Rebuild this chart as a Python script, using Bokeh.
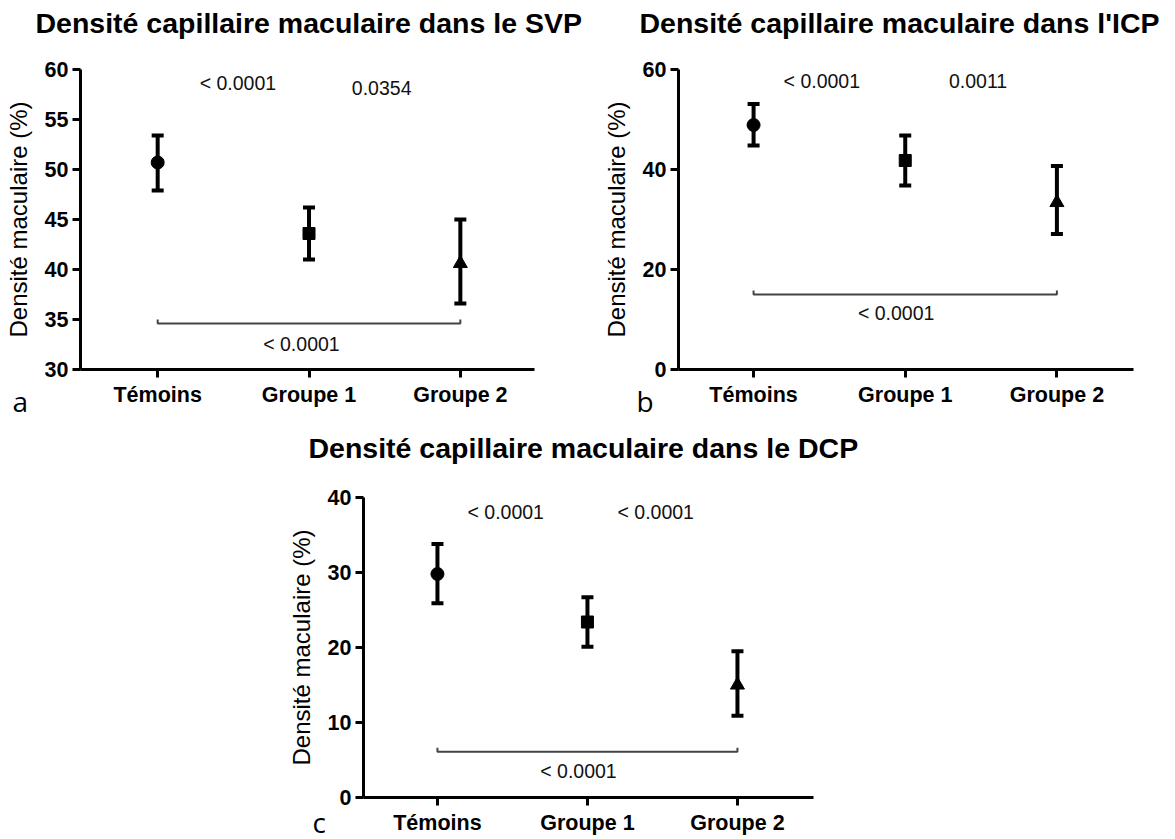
from bokeh.plotting import figure
from bokeh.models import ColumnDataSource, Whisker, TeeHead, Title, FixedTicker, Range1d, Spacer
from bokeh.layouts import column, row
from bokeh.embed import file_html
from bokeh.resources import INLINE
from bokeh.core.properties import value

# ---------------- data ----------------
groups = ["Témoins", "Groupe 1", "Groupe 2"]
group_pos = [1, 2, 3]
markers = ["circle", "square", "triangle"]

svp_mean = [50.7, 43.6, 40.6]
svp_upper = [53.4, 46.2, 45.0]
svp_lower = [47.9, 41.0, 36.6]
svp_pvals = ["< 0.0001", "0.0354", "< 0.0001"]

icp_mean = [48.9, 41.8, 33.4]
icp_upper = [53.1, 46.8, 40.7]
icp_lower = [44.8, 36.8, 27.1]
icp_pvals = ["< 0.0001", "0.0011", "< 0.0001"]

dcp_mean = [29.8, 23.4, 15.0]
dcp_upper = [33.8, 26.7, 19.5]
dcp_lower = [25.9, 20.1, 10.9]
dcp_pvals = ["< 0.0001", "< 0.0001", "< 0.0001"]

svp_ticks = [30, 35, 40, 45, 50, 55, 60]
icp_ticks = [0, 20, 40, 60]
dcp_ticks = [0, 10, 20, 30, 40]

titles = ["Densité capillaire maculaire dans le SVP",
          "Densité capillaire maculaire dans l'ICP",
          "Densité capillaire maculaire dans le DCP"]
letters = ["a", "b", "c"]

FONT = "Liberation Sans"


def title_strip(text, width, height, tx, ty):
    s = figure(width=width, height=height, output_backend="svg", toolbar_location=None,
               x_range=Range1d(0, width), y_range=Range1d(height, 0),
               x_axis_type=None, y_axis_type=None,
               min_border_left=0, min_border_right=0, min_border_top=0, min_border_bottom=0)
    s.outline_line_color = None
    s.grid.visible = False
    s.text(x=[tx], y=[ty], text=[text], text_font=value(FONT), text_font_size="28.5px",
           text_font_style="bold", text_color="black", text_align="left", text_baseline="middle")
    return s


def make_panel(letter, mean, upper, lower, pvals, yticks,
               fig_left, fig_top, width, height,
               fr_left, fr_right, fr_top, fr_bottom, x_start,
               pval_pos, bracket_y, letter_x, letter_standoff):
    y0, y1 = yticks[0], yticks[-1]
    x_end = x_start + 3.0
    p = figure(width=width, height=height, output_backend="svg", toolbar_location=None,
               x_range=Range1d(x_start, x_end), y_range=Range1d(y0, y1),
               min_border_left=fr_left - fig_left, min_border_right=width - (fr_right - fig_left),
               min_border_top=fr_top - fig_top, min_border_bottom=height - (fr_bottom - fig_top))
    p.outline_line_color = None
    p.grid.visible = False
    p.background_fill_color = "white"
    p.border_fill_color = "white"

    for ax in (p.xaxis[0], p.yaxis[0]):
        ax.axis_line_width = 3
        ax.axis_line_color = "black"
        ax.major_tick_line_width = 3
        ax.major_tick_line_color = "black"
        ax.major_tick_out = 8
        ax.major_tick_in = 0
        ax.minor_tick_line_color = None
        ax.major_label_text_font = FONT
        ax.major_label_text_font_style = "bold"
        ax.major_label_text_font_size = "21.5px"
        ax.major_label_text_color = "black"

    p.xaxis.ticker = FixedTicker(ticks=group_pos)
    p.xaxis.major_label_overrides = {g: n for g, n in zip(group_pos, groups)}
    p.xaxis.major_label_standoff = 5
    p.yaxis.ticker = FixedTicker(ticks=yticks)
    p.yaxis.major_label_standoff = 4
    p.yaxis.axis_label = "Densité maculaire (%)"
    p.yaxis.axis_label_text_font = FONT
    p.yaxis.axis_label_text_font_style = "normal"
    p.yaxis.axis_label_text_font_size = "24px"
    p.yaxis.axis_label_text_color = "black"
    p.yaxis.axis_label_standoff = 10

    src = ColumnDataSource(dict(x=group_pos, mean=mean, upper=upper, lower=lower,
                                marker=markers, size=[13, 12, 14]))
    w = Whisker(source=src, base="x", upper="upper", lower="lower", dimension="height",
                line_width=4, line_color="black",
                upper_head=TeeHead(size=12, line_width=4, line_color="black"),
                lower_head=TeeHead(size=12, line_width=4, line_color="black"))
    p.add_layout(w)
    p.scatter(x="x", y="mean", marker="marker", size="size", source=src,
              fill_color="black", line_color="black")

    # bracket between Témoins and Groupe 2
    tick_h = 4 * (y1 - y0) / (fr_bottom - fr_top)
    p.line(x=[group_pos[0], group_pos[0], group_pos[2], group_pos[2]],
           y=[bracket_y + tick_h, bracket_y, bracket_y, bracket_y + tick_h],
           line_color="#444444", line_width=2)

    # p-values
    ptxt = ColumnDataSource(dict(x=[q[0] for q in pval_pos], y=[q[1] for q in pval_pos], t=pvals))
    p.text(x="x", y="y", text="t", source=ptxt, text_font=value(FONT), text_font_size="19.5px",
           text_align="center", text_baseline="middle", text_color="#111111")

    # panel letter under the x axis, left of the frame
    p.add_layout(Title(text=letter, align="left", vertical_align="top",
                       offset=letter_x - fr_left, standoff=letter_standoff,
                       text_font="Open Sans", text_font_size="28px",
                       text_font_style="normal", text_color="black"), "below")
    return p


tA = title_strip(titles[0], 590, 45, 35, 22)
tB = title_strip(titles[1], 585, 45, 49, 22)
tC = title_strip(titles[2], 600, 50, 50, 27)

p1 = make_panel(letters[0], svp_mean, svp_upper, svp_lower, svp_pvals, svp_ticks,
                fig_left=0, fig_top=45, width=590, height=375,
                fr_left=80, fr_right=534, fr_top=69, fr_bottom=369, x_start=0.49,
                pval_pos=[(1.53, 58.7), (2.48, 58.2), (1.95, 32.6)], bracket_y=34.6,
                letter_x=12, letter_standoff=-56)

p2 = make_panel(letters[1], icp_mean, icp_upper, icp_lower, icp_pvals, icp_ticks,
                fig_left=590, fig_top=45, width=585, height=375,
                fr_left=678, fr_right=1133, fr_top=69, fr_bottom=369, x_start=0.505,
                pval_pos=[(1.45, 57.8), (2.48, 57.8), (1.94, 11.3)], bracket_y=15.0,
                letter_x=636, letter_standoff=-56)

p3 = make_panel(letters[2], dcp_mean, dcp_upper, dcp_lower, dcp_pvals, dcp_ticks,
                fig_left=258, fig_top=470, width=600, height=369,
                fr_left=363, fr_right=813, fr_top=497, fr_bottom=797, x_start=0.507,
                pval_pos=[(1.455, 38.1), (2.455, 38.1), (1.94, 3.6)], bracket_y=6.1,
                letter_x=312, letter_standoff=-70)

layout = column(row(tA, tB), row(p1, p2),
                row(Spacer(width=258, height=50), tC),
                row(Spacer(width=258, height=369), p3))

open("out.html", "w").write(file_html(layout, INLINE))
